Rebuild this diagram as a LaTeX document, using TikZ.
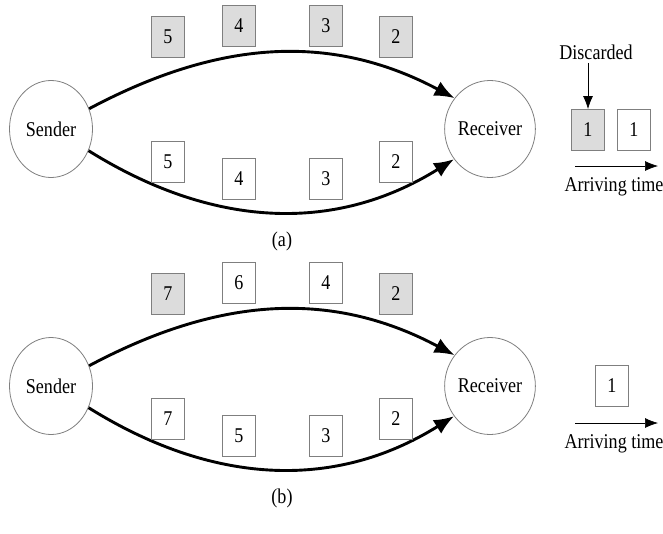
\documentclass[tikz,border=0pt]{standalone}
\usepackage{fontspec}
\setmainfont{Liberation Serif}[FakeStretch=0.86]
\usetikzlibrary{arrows.meta,shapes.geometric}
\definecolor{pktgray}{HTML}{DCDCDC}
\definecolor{pktedge}{HTML}{7F7F7F}

\tikzset{
  host/.style={draw=pktedge, ellipse, line width=0.8pt, minimum width=83pt, minimum height=97pt, inner sep=0pt},
  pkt/.style={draw=pktedge, line width=0.9pt, minimum width=33pt, minimum height=41pt, inner sep=0pt},
  dup/.style={pkt, fill=pktgray},
  route/.style={line width=2.9pt, -{Latex[length=20pt,width=16pt]}},
  thin arrow/.style={line width=0.7pt, -{Latex[length=13pt,width=10pt]}}
}

\begin{document}
\begin{tikzpicture}[x=1pt, y=-1pt, font=\fontsize{21}{24}\selectfont]
        \useasboundingbox (0, 0) rectangle (663, 533);

        % (a)
        \node[host] (sndA) at (51, 129) {Sender};
        \node[host] (rcvA) at (490, 129) {Receiver};
        \draw[route] (sndA.28) to[out=28, in=152] (rcvA.139);
        \draw[route] (sndA.-30) to[out=-32, in=-148] (rcvA.-140);
        \node[dup] (a5) at (168, 37) {5};
        \node[dup] (a4) at (239, 26) {4};
        \node[dup] (a3) at (326, 26) {3};
        \node[dup] (a2) at (396, 37) {2};
        \node[pkt] (b5) at (168, 162) {5};
        \node[pkt] (b4) at (239, 179) {4};
        \node[pkt] (b3) at (326, 179) {3};
        \node[pkt] (b2) at (396, 162) {2};
        \node[dup] (drop) at (588, 130) {1};
        \node[pkt] (keep) at (634, 130) {1};
        \node (disc) at (596, 52) {Discarded};
        \draw[thin arrow] (disc.south -| drop) -- (drop.north);
        \coordinate (tA0) at (575, 166);
        \coordinate (tA1) at (658, 166);
        \draw[thin arrow] (tA0) -- (tA1);
        \node (timeA) at (614, 187) {Arriving time};
        \node (capA) at (282, 241) {(a)};

        % (b)
        \node[host] (sndB) at (51, 386) {Sender};
        \node[host] (rcvB) at (490, 386) {Receiver};
        \draw[route] (sndB.28) to[out=28, in=152] (rcvB.139);
        \draw[route] (sndB.-30) to[out=-32, in=-148] (rcvB.-140);
        \node[dup] (c7) at (168, 294) {7};
        \node[pkt] (c6) at (239, 283) {6};
        \node[pkt] (c4) at (326, 283) {4};
        \node[dup] (c2) at (396, 294) {2};
        \node[pkt] (d7) at (168, 419) {7};
        \node[pkt] (d5) at (239, 436) {5};
        \node[pkt] (d3) at (326, 436) {3};
        \node[pkt] (d2) at (396, 419) {2};
        \node[pkt] (last) at (612, 386) {1};
        \coordinate (tB0) at (575, 423);
        \coordinate (tB1) at (658, 423);
        \draw[thin arrow] (tB0) -- (tB1);
        \node (timeB) at (614, 444) {Arriving time};
        \node (capB) at (282, 498) {(b)};

    \end{tikzpicture}
\end{document}
